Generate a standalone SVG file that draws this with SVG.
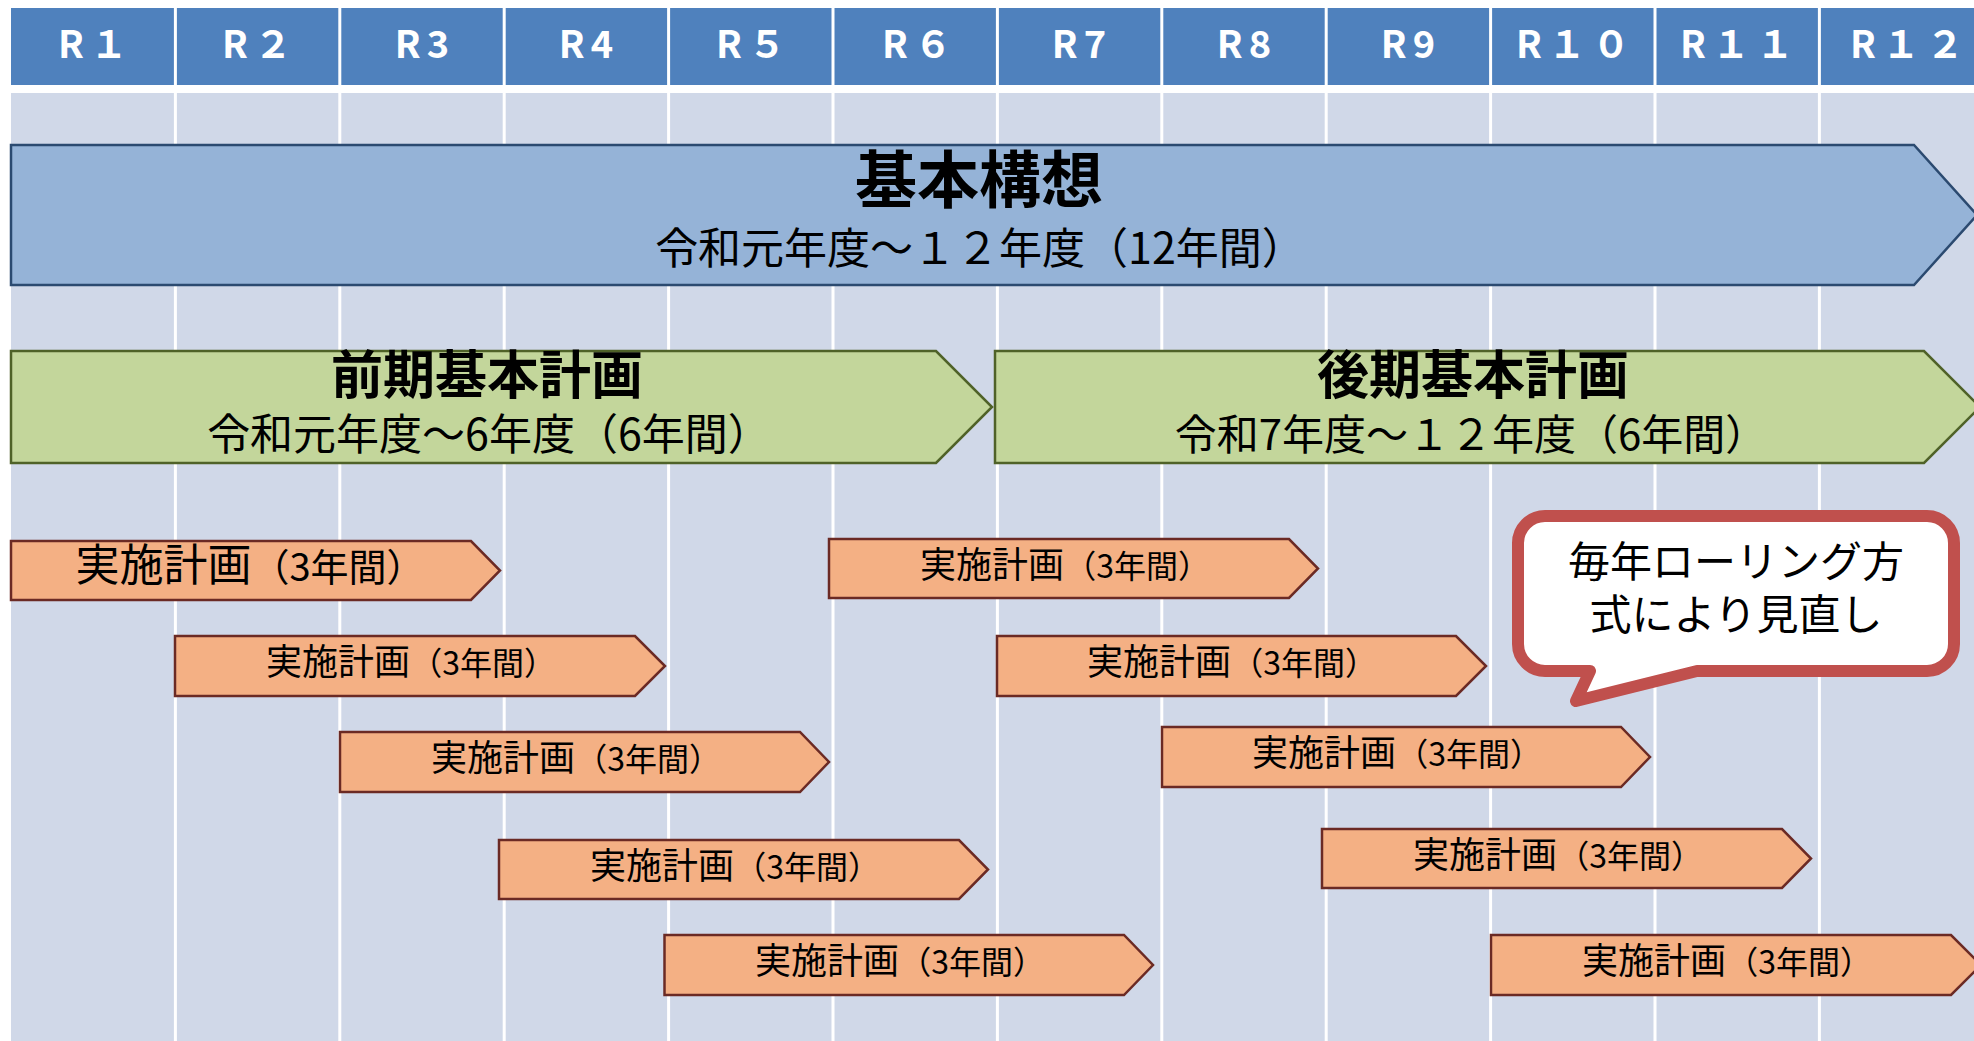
<svg xmlns="http://www.w3.org/2000/svg" width="1974" height="1041" viewBox="0 0 1974 1041">
<defs>
<style>
.hdr{fill:#4F81BD}
.hdrt{font-family:"Noto Sans CJK JP","Noto Sans",sans-serif;font-weight:bold;font-size:38px;fill:#FFFFFF;text-anchor:middle;letter-spacing:6px}
.body{fill:#D0D8E8}
.grid{stroke:#FFFFFF;stroke-width:3}
.blue{fill:#95B3D7;stroke:#2B4A70;stroke-width:2.5}
.green{fill:#C3D69B;stroke:#4F6228;stroke-width:2.5}
.orange{fill:#F4B084;stroke:#6B2A24;stroke-width:2.5}
.t{font-family:"Noto Sans CJK JP","Noto Sans",sans-serif;fill:#000000;text-anchor:middle}
.tb{font-weight:bold}
.bar{font-size:36px}
.sm{font-size:32px}
.callout{fill:#FFFFFF;stroke:#C0504D;stroke-width:12;stroke-linejoin:round}
</style>
</defs>
<rect width="1974" height="1041" fill="#FFFFFF"/>
<g id="timeline-header">
<rect class="hdr" x="11" y="8" width="1963" height="77"/>
<rect class="body" x="11" y="93" width="1963" height="948"/>
<g class="grid">
<line x1="175.4" y1="0" x2="175.4" y2="1041"/>
<line x1="339.8" y1="0" x2="339.8" y2="1041"/>
<line x1="504.2" y1="0" x2="504.2" y2="1041"/>
<line x1="668.6" y1="0" x2="668.6" y2="1041"/>
<line x1="833" y1="0" x2="833" y2="1041"/>
<line x1="997.4" y1="0" x2="997.4" y2="1041"/>
<line x1="1161.8" y1="0" x2="1161.8" y2="1041"/>
<line x1="1326.2" y1="0" x2="1326.2" y2="1041"/>
<line x1="1490.6" y1="0" x2="1490.6" y2="1041"/>
<line x1="1655" y1="0" x2="1655" y2="1041"/>
<line x1="1819.4" y1="0" x2="1819.4" y2="1041"/>
</g>
<g class="hdrt">
<text x="96" y="58">R１</text>
<text x="260" y="58">R２</text>
<text x="425" y="58">R3</text>
<text x="589" y="58">R4</text>
<text x="754" y="58">R５</text>
<text x="920" y="58">R６</text>
<text x="1082" y="58">R7</text>
<text x="1247" y="58">R8</text>
<text x="1411" y="58">R9</text>
<text x="1576" y="58">R１０</text>
<text x="1740" y="58">R１１</text>
<text x="1910" y="58">R１２</text>
</g>
</g>
<g id="kihon-koso">
<path class="blue" d="M11 145 H1914 L1977 215 L1914 285 H11 Z"/>
<text class="t tb" x="979" y="203" font-size="62">基本構想</text>
<text class="t" x="980" y="264" font-size="43">令和元年度～１２年度（12年間）</text>
</g>
<g id="zenki">
<path class="green" d="M11 351 H936 L992 407 L936 463 H11 Z"/>
<text class="t tb" x="487" y="394" font-size="52">前期基本計画</text>
<text class="t" x="489" y="450" font-size="43">令和元年度～6年度（6年間）</text>
</g>
<g id="koki">
<path class="green" d="M995 351 H1924 L1980 407 L1924 463 H995 Z"/>
<text class="t tb" x="1473" y="394" font-size="52">後期基本計画</text>
<text class="t" x="1471" y="450" font-size="42">令和7年度～１２年度（6年間）</text>
</g>
<g id="jisshi-1">
<path class="orange" d="M11 541 H471 L500 570.5 L471 600 H11 Z"/>
<text class="t" x="250" y="581" font-size="44">実施計画<tspan font-size="38">（3年間）</tspan></text>
</g>
<g id="jisshi-2">
<path class="orange" d="M829 539 H1289 L1318 568.5 L1289 598 H829 Z"/>
<text class="t bar" x="1065" y="578">実施計画<tspan class="sm">（3年間）</tspan></text>
</g>
<g id="jisshi-3">
<path class="orange" d="M175 636 H635 L665 666 L635 696 H175 Z"/>
<text class="t bar" x="411" y="675">実施計画<tspan class="sm">（3年間）</tspan></text>
</g>
<g id="jisshi-4">
<path class="orange" d="M997 636 H1456 L1486 666 L1456 696 H997 Z"/>
<text class="t bar" x="1232" y="675">実施計画<tspan class="sm">（3年間）</tspan></text>
</g>
<g id="jisshi-5">
<path class="orange" d="M340 732 H800 L829 762 L800 792 H340 Z"/>
<text class="t bar" x="576" y="771">実施計画<tspan class="sm">（3年間）</tspan></text>
</g>
<g id="jisshi-6">
<path class="orange" d="M1162 727 H1621 L1650 757 L1621 787 H1162 Z"/>
<text class="t bar" x="1397" y="766">実施計画<tspan class="sm">（3年間）</tspan></text>
</g>
<g id="jisshi-7">
<path class="orange" d="M499 840 H959 L988 869.5 L959 899 H499 Z"/>
<text class="t bar" x="735" y="879">実施計画<tspan class="sm">（3年間）</tspan></text>
</g>
<g id="jisshi-8">
<path class="orange" d="M1322 829 H1782 L1811 858.5 L1782 888 H1322 Z"/>
<text class="t bar" x="1558" y="868">実施計画<tspan class="sm">（3年間）</tspan></text>
</g>
<g id="jisshi-9">
<path class="orange" d="M664.5 935 H1124 L1153 965 L1124 995 H664.5 Z"/>
<text class="t bar" x="900" y="974">実施計画<tspan class="sm">（3年間）</tspan></text>
</g>
<g id="jisshi-10">
<path class="orange" d="M1491 935 H1951 L1981 965 L1951 995 H1491 Z"/>
<text class="t bar" x="1727" y="974">実施計画<tspan class="sm">（3年間）</tspan></text>
</g>
<g id="rolling-callout">
<path class="callout" d="M1545 516 H1927 A27 27 0 0 1 1954 543 V644 A27 27 0 0 1 1927 671 H1697 L1576 701 L1590 671 H1545 A27 27 0 0 1 1518 644 V543 A27 27 0 0 1 1545 516 Z"/>
<text class="t" x="1736" y="577" font-size="42">毎年ローリング方</text>
<text class="t" x="1736" y="630" font-size="42">式により見直し</text>
</g>
<g id="connectors"/>
</svg>
